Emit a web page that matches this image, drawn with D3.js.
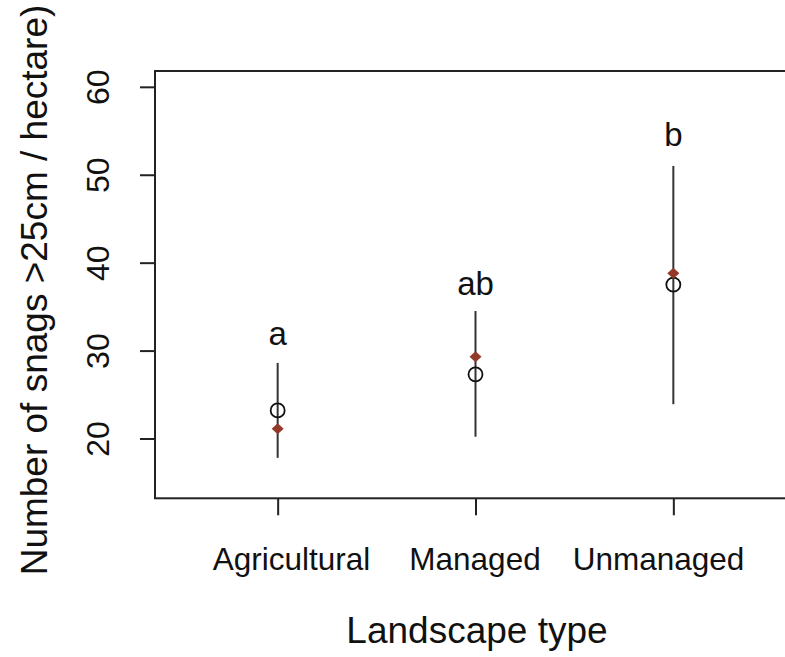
<!DOCTYPE html>
<html>
<head>
<meta charset="utf-8">
<script src="https://cdn.jsdelivr.net/npm/d3@7"></script>
<style>
  body { margin: 0; background: #fff; }
  svg { display: block; font-family: Arial, "Liberation Sans", sans-serif; }
</style>
</head>
<body>
<svg id="chart" width="785" height="657"></svg>
<script>
// values
const categories = ['Agricultural', 'Managed', 'Unmanaged'];
const upper = [28.6, 34.5, 51.0];
const lower = [17.8, 20.2, 23.9];
const observed = [23.2, 27.3, 37.5];   // open circles
const predicted = [21.1, 29.3, 38.8];  // red diamonds
const groups = ['a', 'ab', 'b'];
const groupY = [30.6, 36.3, 53.3];
const yTicks = [20, 30, 40, 50, 60];

const svg = d3.select('#chart');
const plotLeft = 155, plotTop = 71, plotBottom = 498.3;

const x = d3.scaleLinear()
  .domain([0.38, 3.62])
  .range([plotLeft, 796]);

// the category names sit a bit closer together than the ticks
const xLabel = d3.scalePoint()
  .domain(categories)
  .range([291.5, 658.5]);

const y = d3.scaleLinear()
  .domain([13.2, 61.8])
  .range([plotBottom, plotTop]);

// box
svg.append('rect')
  .attr('x', plotLeft)
  .attr('y', plotTop)
  .attr('width', x(3.62) - plotLeft)
  .attr('height', plotBottom - plotTop)
  .attr('fill', 'none')
  .attr('stroke', '#222')
  .attr('stroke-width', 2);

// y axis, labels turned like R's las=0
const yAxis = svg.append('g')
  .attr('transform', 'translate(' + plotLeft + ',0)')
  .call(d3.axisLeft(y).tickValues(yTicks).tickSize(15));
yAxis.select('.domain').remove();
yAxis.selectAll('line').attr('stroke', '#222').attr('stroke-width', 2);
yAxis.selectAll('text')
  .attr('x', null).attr('dy', null)
  .attr('text-anchor', 'middle')
  .attr('transform', 'translate(-46,0) rotate(-90)')
  .attr('font-size', 32)
  .attr('font-family', 'Arial, "Liberation Sans", sans-serif')
  .attr('fill', '#111');

// x axis: ticks only, names placed by xLabel
const xAxis = svg.append('g')
  .attr('transform', 'translate(0,' + plotBottom + ')')
  .call(d3.axisBottom(x).tickValues([1, 2, 3]).tickSize(17).tickFormat(''));
xAxis.select('.domain').remove();
xAxis.selectAll('line').attr('stroke', '#222').attr('stroke-width', 2);

svg.append('g')
  .selectAll('text')
  .data(categories)
  .enter().append('text')
  .attr('x', function(d) { return xLabel(d); })
  .attr('y', plotBottom + 72)
  .attr('text-anchor', 'middle')
  .attr('font-size', 31.5)
  .attr('fill', '#111')
  .text(function(d) { return d; });

// axis titles
svg.append('text')
  .attr('transform', 'translate(47,290) rotate(-90)')
  .attr('text-anchor', 'middle')
  .attr('font-size', 37)
  .attr('fill', '#111')
  .text('Number of snags >25cm / hectare)');

svg.append('text')
  .attr('x', 477)
  .attr('y', 643)
  .attr('text-anchor', 'middle')
  .attr('font-size', 37)
  .attr('fill', '#111')
  .text('Landscape type');

const idx = d3.range(categories.length);
const g = svg.append('g');

// whiskers
g.selectAll('line.ci')
  .data(idx)
  .enter().append('line')
  .attr('class', 'ci')
  .attr('x1', function(i) { return x(i + 1); })
  .attr('x2', function(i) { return x(i + 1); })
  .attr('y1', function(i) { return y(lower[i]); })
  .attr('y2', function(i) { return y(upper[i]); })
  .attr('stroke', '#333')
  .attr('stroke-width', 2);

// open circles
g.selectAll('circle')
  .data(idx)
  .enter().append('circle')
  .attr('cx', function(i) { return x(i + 1); })
  .attr('cy', function(i) { return y(observed[i]); })
  .attr('r', 7)
  .attr('fill', 'none')
  .attr('stroke', '#111')
  .attr('stroke-width', 1.8);

// diamonds
g.selectAll('path.pred')
  .data(idx)
  .enter().append('path')
  .attr('class', 'pred')
  .attr('d', 'M0,-5.5 L6,0 L0,5.5 L-6,0 Z')
  .attr('transform', function(i) {
    return 'translate(' + x(i + 1) + ',' + y(predicted[i]) + ')';
  })
  .attr('fill', '#93392a');

// group letters
g.selectAll('text.grp')
  .data(idx)
  .enter().append('text')
  .attr('class', 'grp')
  .attr('x', function(i) { return x(i + 1); })
  .attr('y', function(i) { return y(groupY[i]); })
  .attr('text-anchor', 'middle')
  .attr('font-size', 33)
  .attr('fill', '#111')
  .text(function(i) { return groups[i]; });
</script>
</body>
</html>
